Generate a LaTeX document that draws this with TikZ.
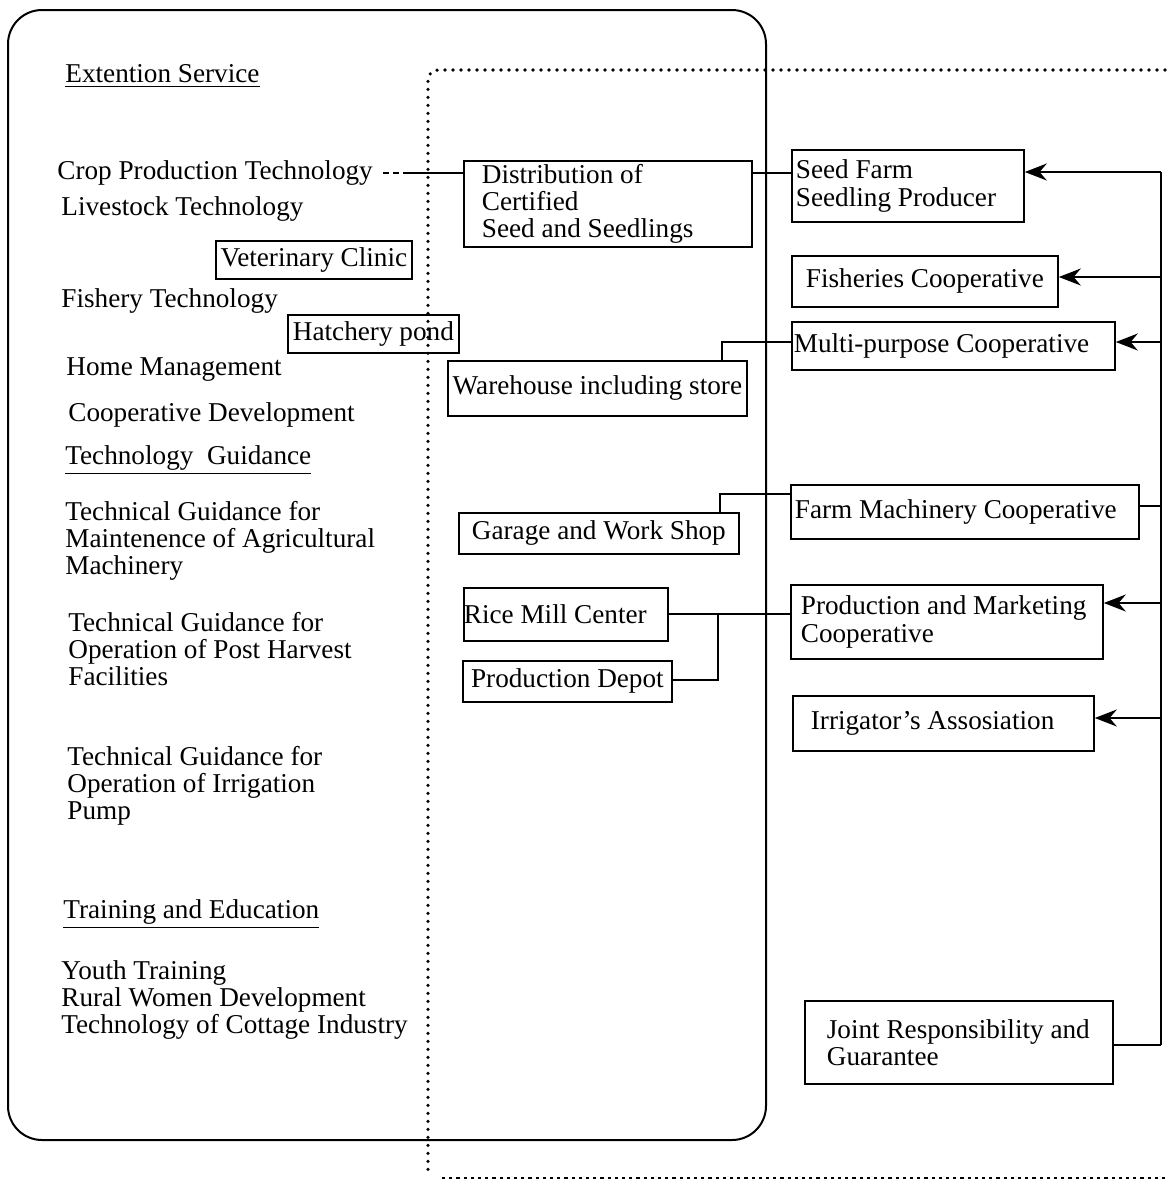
\documentclass[tikz,border=0pt]{standalone}
\usepackage{fontspec}
\setmainfont{Liberation Serif}
\usetikzlibrary{arrows.meta}
\begin{document}
\begin{tikzpicture}[x=0.5pt,y=-0.5pt,
  every node/.style={font=\fontsize{13.6}{13.6}\selectfont, inner sep=0pt},
  lbl/.style={anchor=west, align=flush left, yshift=-1.5pt},
  box/.style={draw, line width=0.9pt, anchor=north west, align=center},
  lbox/.style={draw, line width=0.9pt, anchor=north west, align=flush left},
  conn/.style={line width=0.9pt},
  arr/.style={line width=0.9pt, -{Stealth[length=11pt,width=8.5pt]}},
  dotline/.style={line width=1.8pt, line cap=round, dash pattern=on 0pt off 4pt},
  dashline/.style={line width=0.9pt, dash pattern=on 1.6pt off 2pt},
]
\useasboundingbox (0,0) rectangle (1169,1180);

% outer rounded frame
\draw[line width=1pt, rounded corners=17pt] (8,10) rectangle (766,1140);

% dotted / dashed region
\draw[dotline, rounded corners=5pt] (1165,70) -- (428,70) -- (428,1172);
\draw[dashline] (442,1178) -- (1165,1178);

% left column
\node[lbl] (es)   at (65,73)  {\underline{Extention Service}};
\node[lbl] (crop) at (57,170) {Crop Production Technology};
\node[lbl] (live) at (61,206) {Livestock Technology};
\node[lbl] (fisht) at (61,298) {Fishery Technology};
\node[lbl] (home) at (66,367) {Home Management};
\node[lbl] (coop) at (68,412) {Cooperative Development};
\node[lbl] (tg)   at (65,457) {\underline{Technology\ \ Guidance}};
\node[lbl] (tg1)  at (65,538) {Technical Guidance for\\Maintenence of Agricultural\\Machinery};
\node[lbl] (tg2)  at (68,646) {Technical Guidance for\\Operation of Post Harvest\\Facilities};
\node[lbl] (tg3)  at (67,783) {Technical Guidance for\\Operation of Irrigation\\Pump};
\node[lbl] (te)   at (63,911) {\underline{Training and Education}};
\node[lbl] (te1)  at (61,997) {Youth Training\\Rural Women Development\\Technology of Cottage Industry};

% small boxes left
\node[box, minimum width=98pt, minimum height=19pt] (vet) at (215,240) {Veterinary Clinic};
\node[box, minimum width=85.5pt, minimum height=19pt] (hatch) at (287,314) {Hatchery pond};

% middle boxes
\node[lbox, text width=126pt, inner xsep=9pt, minimum height=43pt] (dist) at (463,160) {Distribution of\\Certified\\Seed and Seedlings};
\node[box, minimum width=149.5pt, minimum height=27.5pt] (ware) at (447,360) {Warehouse including store};
\node[box, minimum width=140pt, minimum height=20.5pt] (garage) at (458,512) {Garage and Work Shop};
\node[lbox, text width=102pt, inner xsep=0pt, minimum height=26.5pt] (rice) at (463,587) {Rice Mill Center};
\node[box, minimum width=104.5pt, minimum height=20.5pt] (depot) at (462,660) {Production Depot};

% right boxes
\node[lbox, text width=112pt, inner xsep=2pt, minimum height=36pt] (seed) at (791,149) {Seed Farm\\Seedling Producer};
\node[box, minimum width=133pt, minimum height=25.5pt] (fishc) at (791,255) {Fisheries Cooperative};
\node[lbox, text width=159.5pt, inner xsep=1pt, minimum height=24pt] (multi) at (791,321) {Multi-purpose Cooperative};
\node[lbox, text width=170pt, inner xsep=2pt, minimum height=27pt] (farm) at (790,484) {Farm Machinery Cooperative};
\node[lbox, text width=146pt, inner xsep=5pt, minimum height=37pt] (pm) at (790,584) {Production and Marketing\\Cooperative};
\node[lbox, text width=132.5pt, inner xsep=9pt, minimum height=27.5pt] (irr) at (792,695) {Irrigator's Assosiation};
\node[lbox, text width=138pt, inner xsep=8pt, minimum height=41.5pt] (joint) at (804,1000) {\hspace*{3pt}Joint Responsibility and\\\hspace*{3pt}Guarantee};

% left-side connectors
\draw[conn, dash pattern=on 3pt off 2pt on 3pt off 2pt on 300pt off 0pt] ([xshift=5pt]crop.east) -- (dist.west |- crop.east);
\draw[conn] (dist.east |- crop.east) -- (seed.west |- crop.east);

\coordinate (m1) at (722,342);
\draw[conn] (multi.west |- m1) -- (m1) -- (m1 |- ware.north);
\coordinate (f1) at (720,494);
\draw[conn] (farm.west |- f1) -- (f1) -- (f1 |- garage.north);
\coordinate (p1) at (718,614);
\coordinate (p2) at (718,680);
\draw[conn] (pm.west |- p1) -- (rice.east |- p1);
\draw[conn] (p1) -- (p2) -- (depot.east |- p2);

% right bus
\coordinate (b0) at (1161,172);
\coordinate (bf) at (1161,277);
\coordinate (bm) at (1161,342);
\coordinate (bfm) at (1161,506);
\coordinate (bpm) at (1161,603);
\coordinate (bi) at (1161,718);
\coordinate (b1) at (1161,1045);
\draw[line width=1pt] (b0) -- (b1);
\draw[arr] (b0) -- (seed.east |- b0);
\draw[arr] (bf) -- (fishc.east |- bf);
\draw[arr] (bm) -- (multi.east |- bm);
\draw[conn] (bfm) -- (farm.east |- bfm);
\draw[arr] (bpm) -- (pm.east |- bpm);
\draw[arr] (bi) -- (irr.east |- bi);
\draw[conn] (b1) -- (joint.east |- b1);
\end{tikzpicture}
\end{document}
